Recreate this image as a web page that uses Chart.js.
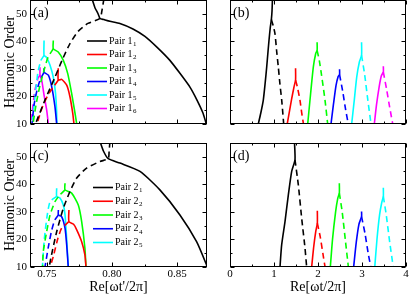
<!DOCTYPE html>
<html><head><meta charset="utf-8">
<script src="https://cdn.jsdelivr.net/npm/chart.js@4.4.1/dist/chart.umd.min.js"></script>
<style>
html,body{margin:0;padding:0;background:#fff;width:409px;height:295px;overflow:hidden;}
canvas{position:absolute;left:0;top:0;}
</style></head><body>
<canvas id="ca" width="409" height="295"></canvas>
<canvas id="cb" width="409" height="295"></canvas>
<canvas id="cc" width="409" height="295"></canvas>
<canvas id="cd" width="409" height="295"></canvas>
<script>
// ---------- data ----------
const yTicks = [10, 20, 30, 40, 50];
const yMinor = [15, 25, 35, 45];
const xTicksAC = [0.75, 0.80, 0.85];
const xMinorAC = [0.775, 0.825];
const xTicksBD = [0, 1, 2, 3, 4];
const xMinorBD = [0.5, 1.5, 2.5, 3.5];
const legendA = ['1', '2', '3', '4', '5', '6'];
const legendC = ['1', '2', '3', '4', '5'];

// panel (a)
const A_k_s = [[0.7846,55.5],[0.7869,52.2],[0.7892,50.1],[0.7908,48.3],[0.7938,47.9],[0.7984,47.3],[0.8061,46.5],[0.8161,44.5],[0.8253,41.8],[0.8345,37.9],[0.8445,33.1],[0.8522,28.4],[0.8599,23.4],[0.8653,18.7],[0.8699,14.0],[0.8722,10.4],[0.8725,10]];
const A_k_d = [[0.7938,55.5],[0.7923,51.2],[0.7908,48.3],[0.7815,46.5],[0.7739,43.6],[0.7677,39.2],[0.7616,33.1],[0.7562,27.0],[0.7485,18.7],[0.7412,10]];
const A_r_s = [[0.7587,30.2],[0.7587,25.9],[0.7613,26.2],[0.7652,24.1],[0.7677,19.9],[0.7698,14.0],[0.7708,10]];
const A_r_d = [[0.7587,25.9],[0.7554,23.7],[0.7508,20.5],[0.7462,15.8],[0.7424,10]];
const A_g_s = [[0.7549,40.3],[0.7549,37.3],[0.7587,36.1],[0.7626,33.1],[0.766,28.3],[0.769,21.1],[0.7716,13.9],[0.7729,10]];
const A_g_d = [[0.7549,37.3],[0.7508,34.2],[0.7478,29.5],[0.7447,24.1],[0.7416,16.9],[0.7393,10]];
const A_b_s = [[0.7478,30.2],[0.7478,28.8],[0.7511,27.7],[0.7537,23.5],[0.7562,16.2],[0.7575,10]];
const A_b_d = [[0.7478,28.8],[0.7447,25.9],[0.7424,22.3],[0.7401,16.9],[0.7385,10]];
const A_c_s = [[0.7478,40.3],[0.7478,34.9],[0.7498,34.2],[0.7524,31.3],[0.7549,27],[0.7566,21.2],[0.7574,15.1],[0.7577,10]];
const A_c_d = [[0.7478,34.9],[0.7454,33.1],[0.7431,28.8],[0.7416,23],[0.7401,16.9],[0.7385,10]];
const A_m_s = [[0.7447,30.6],[0.7447,27.7],[0.746,25.9],[0.7478,20.5],[0.7498,15.1],[0.7511,10]];
const A_m_d = [[0.7447,27.7],[0.7431,26.6],[0.7408,22.3],[0.7393,16.9],[0.7378,10]];

// panel (b)
const B_k_s = [[0.643,10],[0.70,14],[0.757,18.7],[0.80,25],[0.834,30.7],[0.865,36.5],[0.886,40.3],[0.915,45],[0.94,47.9],[0.955,51],[0.965,55.5]];
const B_k_d = [[0.94,47.9],[0.985,45.5],[1.023,42.7],[1.06,36.5],[1.098,30.7],[1.135,24.5],[1.175,18.7],[1.20,14],[1.22,10]];
const B_r_s = [[1.30,10],[1.35,14.5],[1.40,19],[1.455,23.5],[1.49,25.9],[1.49,30.2]];
const B_r_d = [[1.49,25.9],[1.53,23.5],[1.59,18.7],[1.63,14],[1.67,10]];
const B_g_s = [[1.766,10],[1.818,18.7],[1.894,30.7],[1.947,35.5],[1.98,36.7],[1.98,39.7]];
const B_g_d = [[1.98,36.7],[2.03,33],[2.083,27.5],[2.159,18.7],[2.22,10]];
const B_b_s = [[2.295,10],[2.35,17],[2.41,24],[2.46,27.3],[2.49,27.9],[2.49,29.9]];
const B_b_d = [[2.49,27.9],[2.56,22],[2.63,15],[2.689,10]];
const B_c_s = [[2.765,10],[2.82,18],[2.88,27],[2.94,32.5],[2.99,34.9],[2.99,39.7]];
const B_c_d = [[2.99,34.9],[3.06,28],[3.13,19],[3.205,10]];
const B_m_s = [[3.28,10],[3.33,17],[3.39,23.5],[3.44,27.5],[3.485,28.9],[3.485,31]];
const B_m_d = [[3.485,28.9],[3.56,22.5],[3.63,16],[3.698,10]];

// panel (c)
const C_k_s = [[0.7908,55.5],[0.7935,52],[0.7971,49.3],[0.8061,47.7],[0.8215,44.7],[0.8368,38],[0.8522,28.9],[0.865,19.2],[0.8727,10.7],[0.873,10]];
const C_k_d = [[0.7984,55.5],[0.7978,52],[0.7971,49.3],[0.7908,48.3],[0.7805,45.9],[0.7729,42.3],[0.7677,37.4],[0.7626,31.3],[0.7575,22.8],[0.7530,13.2],[0.7518,10]];
const C_r_s = [[0.7669,30.7],[0.7669,26.5],[0.7705,25.5],[0.7729,23.5],[0.7767,19.2],[0.7792,14.4],[0.780,10]];
const C_r_d = [[0.7669,26.5],[0.7640,25.2],[0.7613,24.1],[0.7585,20.5],[0.7550,14],[0.7525,10]];
const C_g_s = [[0.7639,40.4],[0.7639,38],[0.769,36.8],[0.7741,32.5],[0.7767,26.5],[0.7792,16.8],[0.780,10]];
const C_g_d = [[0.7639,38],[0.76,36.2],[0.7562,33.7],[0.7524,28.9],[0.7498,22.8],[0.7472,15.6],[0.7467,10]];
const C_b_s = [[0.7588,30.7],[0.7588,28.9],[0.7613,28.3],[0.7639,24.1],[0.7652,18],[0.7664,10]];
const C_b_d = [[0.7588,28.9],[0.756,27],[0.7535,23],[0.751,17],[0.7485,10]];
const C_c_s = [[0.7575,38.6],[0.7575,35.6],[0.76,35],[0.7626,32.5],[0.7639,29],[0.7652,20],[0.7664,10]];
const C_c_d = [[0.7575,35.6],[0.7524,33.7],[0.75,28],[0.748,20],[0.7465,10]];

// panel (d)
const D_k_s = [[1.136,10],[1.174,18],[1.25,26.5],[1.326,36.2],[1.402,44.7],[1.477,48.9],[1.465,55.5]];
const D_k_d = [[1.477,48.9],[1.553,39.8],[1.629,27.7],[1.705,16.8],[1.742,10]];
const D_r_s = [[1.856,10],[1.90,17],[1.95,23],[1.985,25.9],[1.985,30.4]];
const D_r_d = [[1.985,25.9],[2.05,21],[2.11,15],[2.16,10]];
const D_g_s = [[2.28,10],[2.33,20],[2.40,30],[2.45,35],[2.485,36.8],[2.485,40.4]];
const D_g_d = [[2.485,36.8],[2.55,30],[2.62,20],[2.69,10]];
const D_b_s = [[2.81,10],[2.87,19],[2.93,25.5],[2.99,28.3],[2.99,30.1]];
const D_b_d = [[2.99,28.3],[3.07,22],[3.14,15],[3.20,10]];
const D_c_s = [[3.29,10],[3.34,20],[3.40,29],[3.45,33.5],[3.485,35.6],[3.485,38.8]];
const D_c_d = [[3.485,35.6],[3.55,29],[3.63,19],[3.71,10]];

// ---------- styling ----------
const FONT = "'Liberation Serif','Times New Roman',serif";
const COL = {k:'#000000', r:'#ff0000', g:'#00ff00', b:'#0000ff', c:'#00ffff', m:'#ff00ff'};

function ds(pts, color, dashed){
  return {data: pts.map(p => ({x:p[0], y:p[1]})), borderColor: color, borderWidth: 1.6,
    borderDash: dashed ? [6,4] : [], pointRadius: 0, showLine: true, fill: false, tension: 0.2};
}

const deco = {
  id: 'deco',
  afterDatasetsDraw(chart, args, o){
    const {ctx, chartArea: a} = chart;
    const x = chart.scales.x, y = chart.scales.y;
    ctx.save();
    ctx.strokeStyle = '#000'; ctx.lineWidth = 1; ctx.setLineDash([]);
    const L = Math.round(a.left)+0.5, R = Math.round(a.right)-0.5, T = Math.round(a.top)+0.5, B = Math.round(a.bottom)-0.5;
    ctx.strokeRect(L, T, R-L, B-T);
    ctx.beginPath();
    const xt = (vals, len) => vals.forEach(v => { const p = Math.round(x.getPixelForValue(v))+0.5; ctx.moveTo(p,B); ctx.lineTo(p,B-len); ctx.moveTo(p,T); ctx.lineTo(p,T+len); });
    const yt = (vals, len) => vals.forEach(v => { const p = Math.round(y.getPixelForValue(v))+0.5; ctx.moveTo(L,p); ctx.lineTo(L+len,p); ctx.moveTo(R,p); ctx.lineTo(R-len,p); });
    xt(o.xMaj, 4); xt(o.xMin, 2); yt(yTicks, 4); yt(yMinor, 2);
    ctx.stroke();
    ctx.fillStyle = '#000';
    ctx.font = '14px ' + FONT; ctx.textBaseline = 'middle'; ctx.textAlign = 'left';
    ctx.fillText(o.label, a.left + 3, a.top + 13);
    if (o.legend) {
      const lg = o.legend;
      lg.subs.forEach((s, i) => {
        const yy = a.top + lg.y0 + i*lg.dy;
        ctx.strokeStyle = lg.colors[i]; ctx.lineWidth = 1.6;
        ctx.beginPath(); ctx.moveTo(a.left + lg.x0, yy); ctx.lineTo(a.left + lg.x1, yy); ctx.stroke();
        ctx.fillStyle = '#000';
        ctx.font = '10px ' + FONT; ctx.textBaseline = 'middle';
        const tx = a.left + lg.x1 + 2;
        ctx.fillText(lg.base, tx, yy);
        const w = ctx.measureText(lg.base).width;
        ctx.font = '7px ' + FONT;
        ctx.fillText(s, tx + w + 0.5, yy + 3);
      });
    }
    ctx.restore();
  }
};

function yScale(show){
  const s = {type:'linear', min:10, max:55,
    afterBuildTicks: sc => { sc.ticks = yTicks.map(v => ({value:v})); },
    grid:{display:false, drawTicks:false}, border:{display:false}};
  if (!show) { s.display = false; return s; }
  s.ticks = {font:{family:FONT, size:11}, color:'#000', padding:3};
  s.title = {display:true, text:'Harmonic Order', color:'#000', font:{family:FONT, size:14, lineHeight:1}, padding:{top:3, bottom:0}};
  s.afterFit = sc => { sc.width = 30; sc.paddingTop = 0; sc.paddingBottom = 0; };
  return s;
}
function xScale(show, min, max, ticks, fmt, title){
  const s = {type:'linear', min:min, max:max, position:'bottom',
    afterBuildTicks: sc => { sc.ticks = ticks.map(v => ({value:v})); },
    grid:{display:false, drawTicks:false}, border:{display:false}};
  if (!show) { s.display = false; return s; }
  s.ticks = {font:{family:FONT, size:11}, color:'#000', padding:1, maxRotation:0, autoSkip:false, callback: v => fmt(v)};
  s.title = {display:true, text:title, color:'#000', font:{family:FONT, size:14, lineHeight:1}, padding:{top:0, bottom:1}};
  s.afterFit = sc => { sc.height = 28; sc.paddingLeft = 0; sc.paddingRight = 0; };
  return s;
}

function make(id, datasets, scales, padding, decoOpts){
  new Chart(document.getElementById(id), {
    type: 'scatter',
    data: {datasets: datasets},
    options: {responsive:false, animation:false, events:[],
      layout:{padding: padding},
      scales: scales,
      plugins:{legend:{display:false}, tooltip:{enabled:false}, deco: decoOpts}},
    plugins: [deco]
  });
}

make('ca', [
  ds(A_k_s, COL.k), ds(A_k_d, COL.k, true),
  ds(A_r_s, COL.r), ds(A_r_d, COL.r, true),
  ds(A_g_s, COL.g), ds(A_g_d, COL.g, true),
  ds(A_b_s, COL.b), ds(A_b_d, COL.b, true),
  ds(A_c_s, COL.c), ds(A_c_d, COL.c, true),
  ds(A_m_s, COL.m), ds(A_m_d, COL.m, true)
], {x: xScale(false, 0.737, 0.873, xTicksAC), y: yScale(true)},
 {left:0, right:202, top:0, bottom:171},
 {label:'(a)', xMaj:xTicksAC, xMin:xMinorAC,
  legend:{base:'Pair 1', subs:legendA, colors:[COL.k,COL.r,COL.g,COL.b,COL.c,COL.m], x0:57, x1:77, y0:41, dy:13.5}});

make('cb', [
  ds(B_k_s, COL.k), ds(B_k_d, COL.k, true),
  ds(B_r_s, COL.r), ds(B_r_d, COL.r, true),
  ds(B_g_s, COL.g), ds(B_g_d, COL.g, true),
  ds(B_b_s, COL.b), ds(B_b_d, COL.b, true),
  ds(B_c_s, COL.c), ds(B_c_d, COL.c, true),
  ds(B_m_s, COL.m), ds(B_m_d, COL.m, true)
], {x: xScale(false, 0, 4, xTicksBD), y: yScale(false)},
 {left:230, right:3, top:0, bottom:171},
 {label:'(b)', xMaj:xTicksBD, xMin:xMinorBD});

make('cc', [
  ds(C_k_s, COL.k), ds(C_k_d, COL.k, true),
  ds(C_r_s, COL.r), ds(C_r_d, COL.r, true),
  ds(C_g_s, COL.g), ds(C_g_d, COL.g, true),
  ds(C_b_s, COL.b), ds(C_b_d, COL.b, true),
  ds(C_c_s, COL.c), ds(C_c_d, COL.c, true)
], {x: xScale(true, 0.737, 0.873, xTicksAC, v => v.toFixed(2), "Re[\u03c9t'/2\u03c0]"), y: yScale(true)},
 {left:0, right:202, top:143, bottom:0},
 {label:'(c)', xMaj:xTicksAC, xMin:xMinorAC,
  legend:{base:'Pair 2', subs:legendC, colors:[COL.k,COL.r,COL.g,COL.b,COL.c], x0:63, x1:83, y0:44.5, dy:13.75}});

make('cd', [
  ds(D_k_s, COL.k), ds(D_k_d, COL.k, true),
  ds(D_r_s, COL.r), ds(D_r_d, COL.r, true),
  ds(D_g_s, COL.g), ds(D_g_d, COL.g, true),
  ds(D_b_s, COL.b), ds(D_b_d, COL.b, true),
  ds(D_c_s, COL.c), ds(D_c_d, COL.c, true)
], {x: xScale(true, 0, 4, xTicksBD, v => String(v), "Re[\u03c9t/2\u03c0]"), y: yScale(false)},
 {left:230, right:3, top:143, bottom:0},
 {label:'(d)', xMaj:xTicksBD, xMin:xMinorBD});
</script>
</body></html>
